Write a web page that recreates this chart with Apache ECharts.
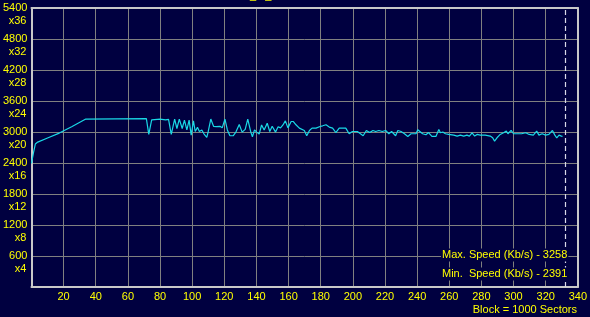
<!DOCTYPE html>
<html>
<head>
<meta charset="utf-8">
<script src="https://cdn.jsdelivr.net/npm/echarts@6/dist/echarts.min.js"></script>
<style>
html,body{margin:0;padding:0;background:#000040;}
#c{width:590px;height:317px;}
</style>
</head>
<body>
<div id="c"></div>
<script>
// Block positions (x1000 sectors) and read speeds (Kb/s)
const blocks = [0,1.2,2.4,3.9,10,17.3,25,33.8,35,71.5,73,74.8,80,83.5,85.3,87,89.1,90.5,92,93.8,95.2,96.7,98.1,99.4,100.8,101.9,103.3,104.5,106,107.4,109.1,110,111.6,113.3,115,117.3,118.7,120.4,121.9,123.5,125.5,127.2,129.3,131.1,133,134.6,136.5,137.5,138.8,140.2,141.7,143.2,144.8,146.7,148.3,149.8,151.9,153.5,155,156.5,158,159.6,161.6,163,164.6,166.7,169.8,171.3,173,174.6,177.1,179.6,181.2,183.3,185.3,187.4,189.4,191.5,195.6,197.7,199.7,202.8,206.4,208.4,210.5,212.5,214.2,216.2,218.3,220.4,222.4,224.1,226.6,228,230,232.1,234.2,236.2,239.3,240.4,243.4,245.5,247.1,249.2,251.7,253.5,254.5,256,257.6,259.6,260.7,262.8,264.9,266.9,269,271,272.5,274.2,275.8,277.3,279.3,282.4,285.5,287,288.2,289.7,291.7,293.8,295.5,296.5,298.5,300,302,305,307.6,309.7,312.3,314.4,315.8,317.8,319.9,322,324.2,325.7,326.9,328.3,329.8,330.5];
const speeds = [2391,2593,2767,2805,2885,2979,3103,3250,3258,3258,2955,3236,3250,3236,3245,2955,3250,3068,3250,3068,3230,3040,3230,2940,3215,3010,3090,3010,3040,2960,2895,3010,3250,3110,3105,3110,3080,3250,3040,2927,2927,2998,3146,2998,3050,3250,2998,2908,3040,2998,2960,3136,3040,3170,3010,3110,2998,3101,3080,3136,3215,3080,3203,3203,3140,3075,3030,2927,3030,3075,3075,3107,3120,3140,3095,3075,2990,3075,3075,2966,3010,3010,2927,3030,2990,3030,3010,3030,3010,3030,2966,3010,2927,3030,3010,2966,2914,2966,2966,3043,2966,2946,2990,2914,2914,3049,2985,3000,2966,2953,2921,2940,2921,2940,2921,2940,2921,2985,2921,2953,2940,2940,2921,2888,2824,2888,2953,2985,3017,2966,3030,2966,2966,2966,2985,2953,2940,3017,2940,2966,2940,2953,3030,2940,2888,2940,2921,2914];
const xTicks = {min: 0, max: 340, step: 20};
const yTicks = {min: 0, max: 5400, step: 600};
const speedMultiplier = 150; // 1x = 150 Kb/s
const markerBlock = 332;
const maxSpeed = 3258;
const minSpeed = 2391;

const YEL = '#ffff00';
const FAM = "'Liberation Sans', Arial, sans-serif";
const FONT = "11px " + FAM;
const seriesData = blocks.map((b, i) => [b, speeds[i]]);

const borderLine = {show: true, onZero: false, lineStyle: {color: '#c8c8c8', width: 2}};

const chart = echarts.init(document.getElementById('c'), null, {renderer: 'canvas'});
chart.setOption({
  animation: false,
  backgroundColor: '#000040',
  grid: {left: 30, right: 9, top: 8, bottom: 30, containLabel: false},
  xAxis: [{
    type: 'value', min: xTicks.min, max: xTicks.max, interval: xTicks.step,
    position: 'bottom',
    axisLine: borderLine,
    axisTick: {show: false},
    splitLine: {show: true, lineStyle: {color: '#808080', width: 1}},
    axisLabel: {color: YEL, fontSize: 11, fontFamily: FAM, margin: 4,
      showMaxLabel: true,
      formatter: v => v === 0 ? '' : String(v)}
  }, {
    type: 'value', min: xTicks.min, max: xTicks.max, position: 'top',
    axisLine: borderLine,
    axisTick: {show: false}, axisLabel: {show: false}, splitLine: {show: false}
  }],
  yAxis: [{
    type: 'value', min: yTicks.min, max: yTicks.max, interval: yTicks.step,
    position: 'left',
    axisLine: borderLine,
    axisTick: {show: false},
    splitLine: {show: true, lineStyle: {color: '#808080', width: 1}},
    axisLabel: {color: YEL, fontSize: 11, fontFamily: FAM, margin: 4,
      align: 'right', showMaxLabel: true,
      formatter: v => v === 0 ? '' : String(v)}
  }, {
    type: 'value', min: yTicks.min, max: yTicks.max, position: 'right',
    axisLine: borderLine,
    axisTick: {show: false}, axisLabel: {show: false}, splitLine: {show: false}
  }, {
    type: 'value', min: yTicks.min, max: yTicks.max, interval: yTicks.step,
    position: 'left',
    axisLine: {show: false}, axisTick: {show: false}, splitLine: {show: false},
    axisLabel: {color: YEL, fontSize: 11, fontFamily: FAM, margin: 5,
      align: 'right', verticalAlign: 'top', lineHeight: 26, showMaxLabel: true,
      formatter: v => v === 0 ? '' : 'x' + (v / speedMultiplier)}
  }],
  series: [{
    type: 'line',
    xAxisIndex: 0, yAxisIndex: 0,
    data: seriesData,
    showSymbol: false,
    symbol: 'none',
    lineStyle: {color: '#19d9e6', width: 1.2},
    z: 5,
    markLine: {
      silent: true, symbol: 'none', label: {show: false},
      lineStyle: {color: '#d8d8e8', type: [5, 3], width: 1.2},
      data: [{xAxis: markerBlock}]
    }
  }],
  graphic: [
    {type: 'text', x: 441, y: 255, z: 10,
      style: {text: 'Max. Speed (Kb/s) - ' + maxSpeed, fill: YEL, font: FONT,
        textVerticalAlign: 'middle', backgroundColor: '#000040', padding: [1, 1]}},
    {type: 'text', x: 441, y: 274, z: 10,
      style: {text: 'Min.  Speed (Kb/s) - ' + minSpeed, fill: YEL, font: FONT,
        textVerticalAlign: 'middle', backgroundColor: '#000040', padding: [1, 1]}},
    {type: 'text', x: 577, y: 310, z: 10,
      style: {text: 'Block = 1000 Sectors', fill: YEL, font: FONT,
        textAlign: 'right', textVerticalAlign: 'middle'}},
    {type: 'text', x: 250, y: -10, z: 10,
      style: {text: '_   _', fill: YEL, font: FONT, textVerticalAlign: 'top'}}
  ]
});
</script>
</body>
</html>
